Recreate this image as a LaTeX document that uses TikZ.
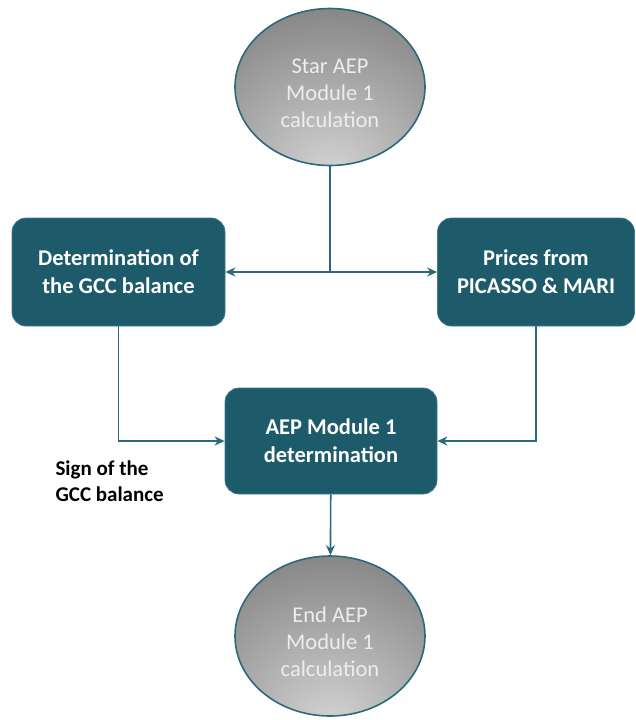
\documentclass[tikz,border=0pt]{standalone}
\usepackage{fontspec}
\setmainfont{Carlito}
\usetikzlibrary{positioning,shapes.geometric,arrows.meta}

\definecolor{boxteal}{HTML}{1D5B6B}
\definecolor{lineteal}{HTML}{2B6A7C}
\definecolor{rimteal}{HTML}{3E7A90}
\definecolor{shadelight}{HTML}{D4D4D4}
\definecolor{shadedark}{HTML}{6E6E6E}
\definecolor{ovaltext}{HTML}{EDEDED}

\pgfdeclareradialshading{ovalshade}{\pgfpoint{0bp}{-28bp}}{%
  color(0bp)=(shadelight); color(55bp)=(shadedark); color(100bp)=(shadedark)}

\tikzset{
  procbox/.style={draw=rimteal, line width=0.8pt, fill=boxteal, rounded corners=14pt,
    text=white, font=\fontsize{22.5}{28}\selectfont\bfseries, align=center, inner sep=0pt},
  oval/.style={ellipse, draw=lineteal, line width=1.6pt, shading=ovalshade,
    text=ovaltext, font=\fontsize{22.5}{27}\selectfont, align=center,
    minimum width=190pt, inner sep=0pt, text height=82pt},
  flow/.style={draw=lineteal, line width=1.6pt, -{Stealth[length=10pt,width=9pt]}},
  note/.style={font=\fontsize{21}{26}\selectfont\bfseries, align=left, anchor=west}
}

\begin{document}
\begin{tikzpicture}[x=1pt, y=1pt]
  \useasboundingbox (0,0) rectangle (636,-720);

  %% start and end of the module
  \node[oval, minimum height=157pt] (start) at (330,-87) {Star AEP\\Module 1\\calculation};
  \node[oval, minimum height=160pt] (finish) at (330,-636) {End AEP\\Module 1\\calculation};

  %% the three steps
  \node[procbox, minimum width=213pt, minimum height=108pt] (gcc) at (118.5,-272)
    {Determination of\\the GCC balance};
  \node[procbox, minimum width=197pt, minimum height=108pt] (prices) at (536,-272)
    {Prices from\\PICASSO \& MARI};
  \node[procbox, minimum width=212pt, minimum height=106pt] (aep) at (331,-441)
    {AEP Module 1\\determination};

  \node[note] (sign) at (52,-481) {Sign of the\\GCC balance};

  \coordinate (split) at (start.south |- gcc.east);

  \draw[flow, -] (start) -- (split);
  \draw[flow] (split) -- (gcc);
  \draw[flow] (split) -- (prices);
  \draw[flow] (gcc) |- (aep);
  \draw[flow] (prices) |- (aep);
  \draw[flow] (aep) -- (finish);
\end{tikzpicture}
\end{document}
